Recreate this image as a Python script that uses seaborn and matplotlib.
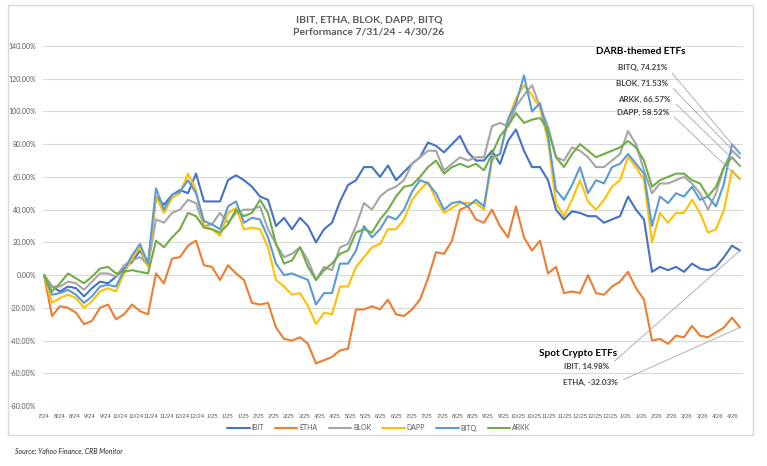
import numpy as np
import pandas as pd
import matplotlib.pyplot as plt
import seaborn as sns
from matplotlib.lines import Line2D
from matplotlib.patches import Rectangle

plt.switch_backend('Agg')

# Cumulative performance (%), roughly every 5 trading days
ibit = [0, -7, -10, -7, -8, -13, -8, -4,
        -5, -1, 4, 8, 15, 6, 48, 43,
        49, 52, 50, 62, 45, 45, 45, 58,
        61, 58, 54, 48, 46, 30, 35, 28,
        35, 30, 20, 28, 32, 45, 55, 58,
        66, 66, 60, 67, 58, 63, 68,
        72, 81, 79, 75, 80, 85, 75, 70,
        70, 76, 68, 82, 89, 76, 66, 66,
        58, 40, 34, 39, 38, 36, 36,
        32, 34, 36, 48, 40, 34, 2, 5,
        3, 5, 2, 7, 4, 3, 5, 11,
        18, 14.98]
etha = [0, -25, -19, -20, -23, -30, -28, -20,
        -18, -27, -24, -18, -22, -24, 1, -5,
        10, 11, 18, 21, 6, 5, -3, 6,
        1, -3, -17, -18, -17, -32, -39, -40,
        -38, -42, -54, -52, -50, -46, -45, -21,
        -21, -19, -21, -15, -24, -25, -21,
        -15, -2, 14, 13, 21, 40, 42, 34,
        32, 40, 30, 23, 42, 23, 15, 21,
        1, 5, -11, -10, -11, 0, -11,
        -12, -7, -4, 2, -8, -15, -40, -39,
        -42, -37, -38, -31, -37, -38, -35, -32,
        -26, -32.03]
blok = [0, -7, -7, -4, -5, -9, -4, 1,
        1, -1, 6, 9, 11, 6, 34, 32,
        38, 40, 46, 44, 30, 31, 38, 32,
        38, 40, 40, 42, 28, 19, 11, 13,
        17, 9, -3, 5, 3, 17, 19, 30,
        44, 40, 48, 52, 54, 58, 68,
        72, 76, 76, 64, 68, 72, 70, 72,
        72, 91, 93, 91, 103, 110, 116, 103,
        91, 72, 70, 78, 76, 72, 66,
        66, 70, 74, 88, 80, 64, 50, 56,
        56, 58, 60, 56, 50, 40, 50, 66,
        76, 71.53]
dapp = [0, -17, -14, -12, -14, -20, -16, -10,
        -8, -10, 1, 10, 17, 5, 48, 38,
        47, 50, 62, 52, 30, 28, 24, 38,
        41, 28, 29, 28, 17, -3, -7, -12,
        -11, -19, -30, -23, -24, -7, -7, 5,
        11, 17, 19, 28, 28, 34, 46,
        52, 57, 46, 38, 41, 44, 44, 44,
        40, 70, 74, 95, 108, 116, 110, 102,
        82, 44, 36, 46, 58, 45, 40,
        46, 54, 58, 72, 66, 58, 20, 38,
        32, 38, 38, 46, 38, 26, 28, 40,
        64, 58.52]
bitq = [0, -12, -11, -9, -12, -17, -13, -7,
        -6, -7, 3, 12, 19, 7, 53, 40,
        49, 51, 58, 50, 33, 31, 28, 42,
        45, 32, 35, 34, 23, 7, 0, 1,
        -1, -3, -18, -11, -11, 7, 7, 15,
        30, 23, 28, 36, 34, 40, 51,
        58, 56, 50, 40, 44, 45, 42, 46,
        42, 72, 74, 95, 105, 122, 100, 105,
        85, 52, 46, 55, 66, 50, 58,
        56, 66, 68, 74, 68, 62, 30, 48,
        44, 50, 48, 54, 46, 48, 42, 56,
        80, 74.21]
arkk = [0, -10, -5, 1, -2, -5, -1, 4,
        5, 1, 2, 3, 2, 1, 21, 17,
        23, 28, 38, 36, 29, 28, 26, 31,
        40, 36, 38, 46, 38, 19, 7, 9,
        17, 5, -3, 3, 7, 13, 15, 26,
        28, 26, 34, 40, 48, 54, 55,
        60, 66, 70, 62, 66, 68, 66, 68,
        64, 74, 85, 91, 99, 93, 95, 96,
        89, 72, 66, 74, 80, 76, 72,
        74, 76, 78, 82, 78, 70, 54, 58,
        60, 62, 62, 58, 56, 48, 54, 66,
        72, 66.57]

funds = ['IBIT', 'ETHA', 'BLOK', 'DAPP', 'BITQ', 'ARKK']
series = [ibit, etha, blok, dapp, bitq, arkk]
colors = {'IBIT': '#4472C4', 'ETHA': '#ED7D31', 'BLOK': '#A5A5A5',
          'DAPP': '#FFC000', 'BITQ': '#5B9BD5', 'ARKK': '#70AD47'}

date_labels = ['7/24', '8/24', '8/24', '9/24', '9/24', '10/24', '10/24', '11/24',
               '11/24', '12/24', '12/24', '1/25', '1/25', '1/25', '2/25', '2/25',
               '3/25', '3/25', '4/25', '4/25', '5/25', '5/25', '6/25', '6/25',
               '7/25', '7/25', '7/25', '8/25', '8/25', '9/25', '9/25', '10/25',
               '10/25', '11/25', '11/25', '12/25', '12/25', '12/25', '1/26', '1/26',
               '2/26', '2/26', '3/26', '3/26', '4/26', '4/26']

n = len(ibit)
df = pd.concat([pd.DataFrame({'idx': np.arange(n), 'value': s, 'fund': f})
                for f, s in zip(funds, series)], ignore_index=True)

sns.set_style('white')
plt.rcParams['font.family'] = ['Lato', 'DejaVu Sans']

fig = plt.figure(figsize=(7.67, 4.66), dpi=100)
ax = fig.add_axes([43 / 767, 1 - 406 / 466, 700 / 767, 360 / 466])

sns.lineplot(data=df, x='idx', y='value', hue='fund', hue_order=funds,
             palette=colors, linewidth=1.5, legend=False, ax=ax)

ax.set_xlim(-0.125, n - 1 + 0.375)
ax.set_ylim(-80, 140)
ax.set_yticks(np.arange(-80, 141, 20))
ax.set_yticklabels([f'{v:.2f}%' for v in np.arange(-80, 141, 20)])
ax.set_xticks(np.linspace(0, 86.1, len(date_labels)))
ax.set_xticklabels(date_labels, fontsize=4.3, family='Liberation Sans')
ax.tick_params(axis='both', length=0, colors='#595959')
ax.tick_params(axis='y', labelsize=5, pad=5)
ax.tick_params(axis='x', pad=6)
ax.set_xlabel('')
ax.set_ylabel('')
ax.yaxis.grid(True, color='#D9D9D9', linewidth=0.8)
ax.xaxis.grid(False)
ax.set_axisbelow(True)
for sp in ax.spines.values():
    sp.set_visible(False)

# titles
fig.text(369 / 767, 446 / 466, 'IBIT, ETHA, BLOK, DAPP, BITQ', ha='center', va='center',
         fontsize=7.5, fontweight='bold', color='#595959')
fig.text(369 / 767, 434 / 466, 'Performance 7/31/24 - 4/30/26', ha='center', va='center',
         fontsize=7.5, fontweight='bold', color='#595959')

# end-value callouts
end_labels = {'BITQ': (667, 399), 'BLOK': (668, 383), 'ARKK': (671, 367),
              'DAPP': (669, 354), 'IBIT': (609, 100), 'ETHA': (618, 84)}
for f, s in zip(funds, series):
    tx, ty = end_labels[f]
    ax.annotate(f'{f}, {s[-1]:.2f}%', xy=(n - 1, s[-1]), xytext=(tx, ty),
                textcoords='figure pixels', ha='right', va='center',
                fontsize=5.8, fontweight='bold', color='#404040',
                arrowprops=dict(arrowstyle='-', color='#A6A6A6', lw=0.6,
                                shrinkA=2, shrinkB=0, relpos=(1, 0.5)))

fig.text(641 / 767, 414 / 466, 'DARB-themed ETFs', ha='center', va='center',
         fontsize=7.2, fontweight='bold', color='black')
fig.text(578 / 767, 113 / 466, 'Spot Crypto ETFs', ha='center', va='center',
         fontsize=7.2, fontweight='bold', color='black')

handles = [Line2D([0], [0], color=colors[f], lw=1.5) for f in funds]
fig.legend(handles, funds, loc='center', bbox_to_anchor=(379 / 767, 38 / 466),
           ncol=6, frameon=False, fontsize=5, handlelength=3.2,
           handletextpad=0.3, columnspacing=1.6, labelcolor='#595959')

fig.text(15 / 767, 15 / 466, 'Source: Yahoo Finance, CRB Monitor', ha='left', va='center',
         fontsize=5, fontstyle='italic', color='#262626')

fig.patches.append(Rectangle((8 / 767, 31 / 466), 745 / 767, 430 / 466,
                             transform=fig.transFigure, fill=False,
                             edgecolor='#D9D9D9', lw=1))

fig.savefig('out.png', dpi=100)
